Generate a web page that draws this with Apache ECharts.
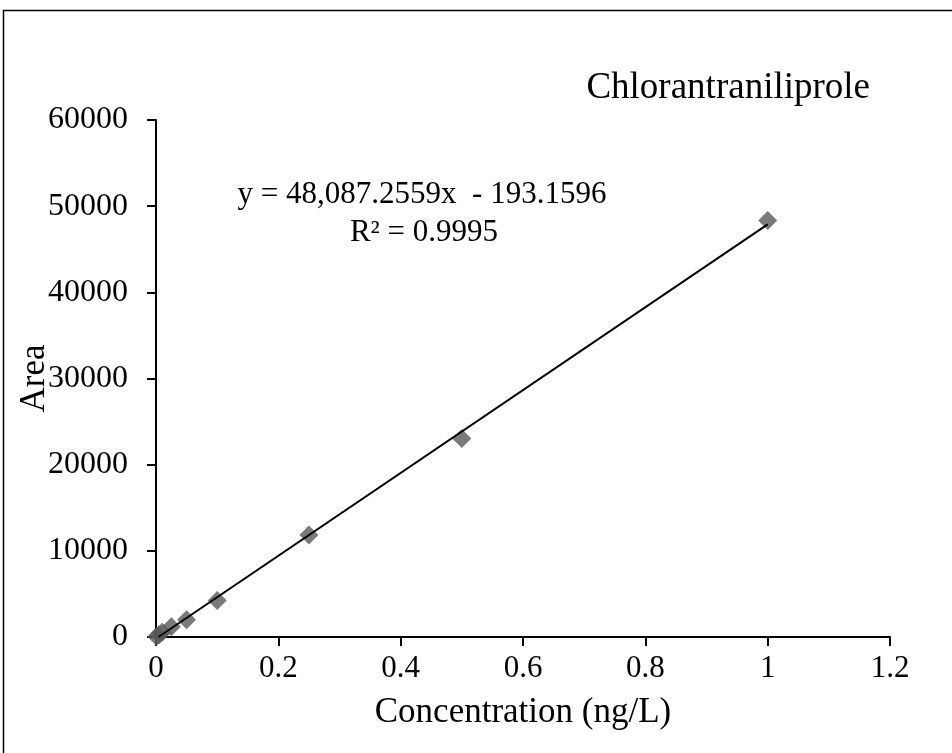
<!DOCTYPE html>
<html>
<head>
<meta charset="utf-8">
<script src="https://cdn.jsdelivr.net/npm/echarts@6/dist/echarts.min.js"></script>
<style>html,body{margin:0;padding:0;background:#fff}#c{width:952px;height:753px}</style>
</head>
<body>
<div id="c"></div>
<script>
const concentration = [0.001, 0.005, 0.01, 0.025, 0.05, 0.1, 0.25, 0.5, 1];
const area = [60, 250, 550, 1200, 2000, 4250, 11850, 23050, 48350];
const trendX = [0.004, 1];
const trendY = [0, 47894];
const xTicks = [0, 0.2, 0.4, 0.6, 0.8, 1, 1.2];
const yTicks = [0, 10000, 20000, 30000, 40000, 50000, 60000];
const titleText = 'Chlorantraniliprole';
const eqText = 'y = 48,087.2559x  - 193.1596';
const r2Text = 'R² = 0.9995';

const font = '"Liberation Serif", "Times New Roman", serif';
const chart = echarts.init(document.getElementById('c'), null, {renderer: 'canvas'});
chart.setOption({
  animation: false,
  backgroundColor: '#fff',
  grid: {left: 156, right: 62, top: 120, bottom: 116, containLabel: false, outerBoundsMode: 'none'},
  xAxis: {
    type: 'value', min: xTicks[0], max: xTicks[xTicks.length - 1], interval: 0.2,
    name: 'Concentration (ng/L)', nameLocation: 'middle', nameGap: 58, nameMoveOverlap: false,
    nameTextStyle: {fontFamily: font, fontSize: 35, color: '#000'},
    axisLine: {show: true, onZero: false, lineStyle: {color: '#000', width: 2}},
    axisTick: {show: true, length: 9, lineStyle: {color: '#000', width: 2}},
    axisLabel: {fontFamily: font, fontSize: 31, color: '#000', margin: 16,
      formatter: v => String(v)},
    splitLine: {show: false}
  },
  yAxis: {
    type: 'value', min: yTicks[0], max: yTicks[yTicks.length - 1], interval: 10000,
    name: 'Area', nameLocation: 'middle', nameGap: 104, nameRotate: 90, nameMoveOverlap: false,
    nameTextStyle: {fontFamily: font, fontSize: 35, color: '#000'},
    axisLine: {show: true, onZero: false, lineStyle: {color: '#000', width: 2}},
    axisTick: {show: true, length: 9, lineStyle: {color: '#000', width: 2}},
    axisLabel: {fontFamily: font, fontSize: 32, color: '#000', margin: 28,
      formatter: v => String(v)},
    splitLine: {show: false}
  },
  graphic: [
    {type: 'rect', silent: true, shape: {x: 3.5, y: 10.5, width: 1200, height: 1200}, style: {fill: 'none', stroke: '#000', lineWidth: 1.5}},
    {type: 'text', x: 870, y: 88, style: {text: titleText, font: '37px ' + font, fill: '#000', textAlign: 'right', textVerticalAlign: 'middle'}},
    {type: 'text', x: 422, y: 195, style: {text: eqText, font: '31px ' + font, fill: '#000', textAlign: 'center', textVerticalAlign: 'middle'}},
    {type: 'text', x: 424, y: 233, style: {text: r2Text, font: '31px ' + font, fill: '#000', textAlign: 'center', textVerticalAlign: 'middle'}}
  ],
  series: [
    {
      type: 'line', data: trendX.map((x, i) => [x, trendY[i]]),
      symbol: 'none', lineStyle: {color: '#000', width: 2}, z: 3
    },
    {
      type: 'scatter', data: concentration.map((x, i) => [x, area[i]]),
      symbol: 'diamond', symbolSize: 19, itemStyle: {color: '#595959'}, z: 2
    }
  ]
});
</script>
</body>
</html>
